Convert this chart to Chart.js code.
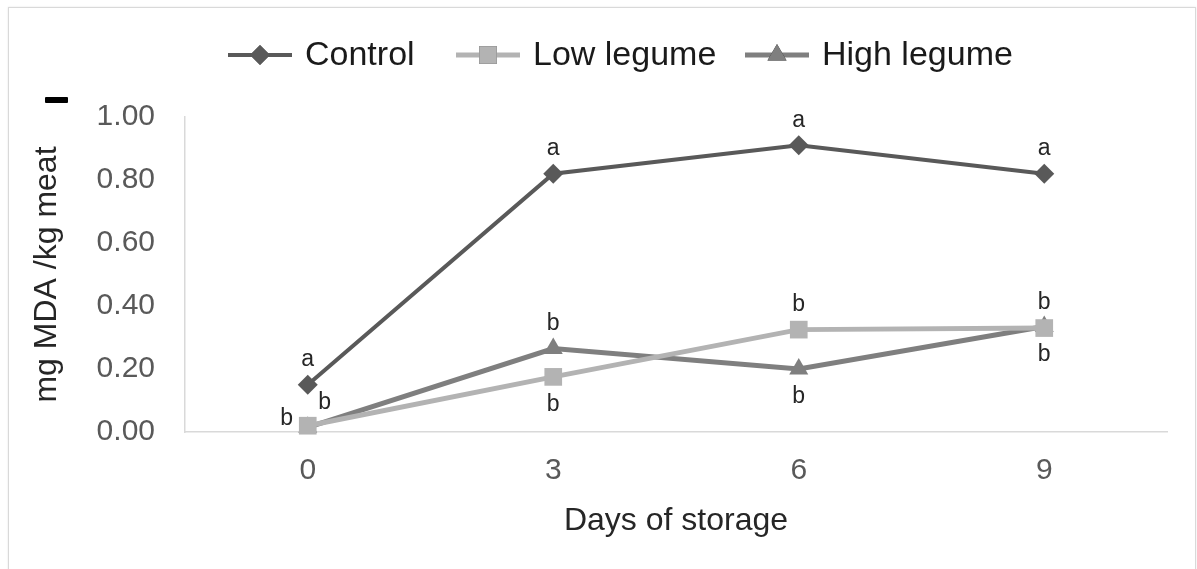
<!DOCTYPE html>
<html>
<head>
<meta charset="utf-8">
<script src="https://cdn.jsdelivr.net/npm/chart.js@4.4.1/dist/chart.umd.min.js"></script>
<style>
  html, body { margin: 0; padding: 0; background: #fff; overflow: hidden; }
  #wrap { position: relative; width: 1197px; height: 569px; }
  #frame { position: absolute; left: 8px; top: 7px; width: 1186px; height: 600px;
           border: 1px solid #d9d9d9; box-shadow: 0 0 2px #e6e6e6; }
  #mark { position: absolute; left: 45px; top: 97px; width: 23px; height: 6px; background: #000; border-radius: 1px; }
  canvas { position: absolute; left: 0; top: 0; }
</style>
</head>
<body>
<div id="wrap">
  <div id="frame"></div>
  <canvas id="chart" width="1197" height="569"></canvas>
  <div id="mark"></div>
</div>
<script>
// ── Data ───────────────────────────────────────────────────────────────────
const days        = ['0', '3', '6', '9'];
const control     = [0.15, 0.82, 0.91, 0.82];
const lowLegume   = [0.02, 0.175, 0.325, 0.33];
const highLegume  = [0.015, 0.265, 0.20, 0.335];
const yTicks      = [0, 0.2, 0.4, 0.6, 0.8, 1.0];

// significance letters and where they sit relative to the point
const controlLetters = [['a','above'], ['a','above'], ['a','above'], ['a','above']];
const lowLetters     = [['b','left'], ['b','below'], ['b','above'], ['b','above']];
const highLetters    = [['b','upright'], ['b','above'], ['b','below'], ['b','below']];

const FONT = '"Liberation Sans", Arial, Helvetica, sans-serif';
const LEGEND_X = [228, 456, 745]; // left edge of each legend entry

// ── Plugins ────────────────────────────────────────────────────────────────
const letterPlugin = {
  id: 'letters',
  afterDatasetsDraw(chart) {
    const ctx = chart.ctx;
    const offs = { above: [0, -25], below: [0, 28], left: [-21, -7], upright: [17, -25] };
    ctx.save();
    ctx.font = '23px ' + FONT;
    ctx.fillStyle = '#262626';
    ctx.textAlign = 'center';
    ctx.textBaseline = 'middle';
    chart.data.datasets.forEach((ds, di) => {
      const meta = chart.getDatasetMeta(di);
      ds.letters.forEach((l, i) => {
        const pt = meta.data[i];
        const o = offs[l[1]];
        ctx.fillText(l[0], pt.x + o[0], pt.y + o[1]);
      });
    });
    ctx.restore();
  }
};

const legendPlugin = {
  id: 'lineLegend',
  afterDraw(chart) {
    const ctx = chart.ctx;
    const y = 55;
    ctx.save();
    ctx.font = '34px ' + FONT;
    ctx.textBaseline = 'middle';
    chart.data.datasets.forEach((ds, i) => {
      const x = LEGEND_X[i];
      ctx.strokeStyle = ds.borderColor;
      ctx.lineWidth = ds.borderWidth;
      ctx.beginPath();
      ctx.moveTo(x, y);
      ctx.lineTo(x + 64, y);
      ctx.stroke();
      Chart.helpers.drawPoint(ctx, {
        pointStyle: ds.pointStyle, radius: ds.pointRadius, borderWidth: 0
      }, x + 32, y);
      ctx.fillStyle = ds.pointBackgroundColor;
      ctx.fill();
      ctx.fillStyle = '#1a1a1a';
      ctx.fillText(ds.label, x + 77, y + 1);
    });
    ctx.restore();
  }
};

// ── Chart ──────────────────────────────────────────────────────────────────
function series(label, data, color, style, radius, width, letters) {
  return {
    label, data, letters,
    borderColor: color, backgroundColor: color,
    pointBackgroundColor: color, pointBorderColor: color, pointBorderWidth: 0,
    pointStyle: style, pointRadius: radius, pointHoverRadius: radius,
    borderWidth: width, tension: 0, clip: false,
  };
}

new Chart(document.getElementById('chart'), {
  type: 'line',
  data: {
    labels: days,
    datasets: [
      series('Control', control, '#595959', 'rectRot', 10, 4, controlLetters),
      series('Low legume', lowLegume, '#b3b3b3', 'rect', 12.5, 5, lowLetters),
      series('High legume', highLegume, '#7f7f7f', 'triangle', 11, 5, highLetters),
    ]
  },
  options: {
    responsive: false,
    animation: false,
    devicePixelRatio: 1,
    layout: { padding: { top: 117, right: 30, left: 0, bottom: 0 } },
    plugins: { legend: { display: false }, tooltip: { enabled: false } },
    scales: {
      x: {
        offset: true,
        grid: { display: false, drawTicks: false },
        border: { display: true, color: '#d9d9d9', width: 1.5 },
        ticks: { color: '#595959', font: { family: FONT, size: 30 }, padding: 21 },
        title: { display: true, text: 'Days of storage', color: '#262626',
                 font: { family: FONT, size: 32 }, padding: { top: 0, bottom: 29 } },
        afterFit: s => { s.height = 137; },
      },
      y: {
        min: 0, max: 1,
        afterBuildTicks: s => { s.ticks = yTicks.map(v => ({ value: v })); },
        grid: { display: false, drawTicks: false },
        border: { display: true, color: '#d9d9d9', width: 1.5 },
        ticks: { color: '#595959', font: { family: FONT, size: 30 }, padding: 30,
                 callback: v => Number(v).toFixed(2) },
        title: { display: true, text: 'mg MDA /kg meat', color: '#262626',
                 font: { family: FONT, size: 32 }, padding: { top: 28, bottom: 0 } },
        afterFit: s => { s.width = 185; },
      }
    }
  },
  plugins: [letterPlugin, legendPlugin]
});
</script>
</body>
</html>
